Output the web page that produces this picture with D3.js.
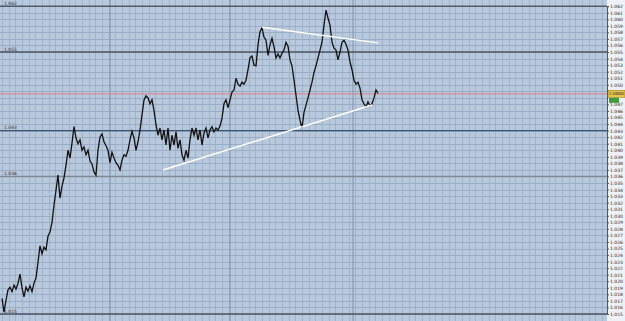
<!DOCTYPE html>
<meta charset="utf-8">
<script src="https://d3js.org/d3.v7.min.js"></script>
<style>
  body { margin: 0; background: #eef1f5; }
  text { font-family: "DejaVu Sans", sans-serif; }
</style>
<body>
<div id="chart"></div>
<script>
// price series, one value per bar
var prices = [
  1.0174,1.0153,1.0171,1.0187,1.0191,1.0184,1.0194,1.0188,1.0197,1.0211,
  1.0190,1.0176,1.0191,1.0185,1.0193,1.0184,1.0197,1.0205,1.0229,1.0254,
  1.0242,1.0252,1.0248,1.0269,1.0275,1.0290,1.0316,1.0339,1.0362,1.0327,
  1.0345,1.0358,1.0377,1.0400,1.0388,1.0411,1.0436,1.0419,1.0410,1.0416,
  1.0400,1.0405,1.0393,1.0400,1.0384,1.0379,1.0367,1.0362,1.0400,1.0420,
  1.0425,1.0413,1.0407,1.0400,1.0381,1.0397,1.0388,1.0381,1.0377,1.0370,
  1.0385,1.0393,1.0391,1.0400,1.0416,1.0429,1.0419,1.0400,1.0413,1.0431,
  1.0454,1.0477,1.0483,1.0480,1.0471,1.0477,1.0461,1.0439,1.0423,1.0434,
  1.0416,1.0431,1.0408,1.0434,1.0400,1.0423,1.0408,1.0428,1.0403,1.0416,
  1.0393,1.0385,1.0400,1.0388,1.0416,1.0434,1.0423,1.0434,1.0416,1.0431,
  1.0408,1.0426,1.0434,1.0419,1.0431,1.0436,1.0428,1.0434,1.0431,1.0437,
  1.0449,1.0471,1.0477,1.0465,1.0477,1.0489,1.0492,1.0510,1.0501,1.0498,
  1.0504,1.0501,1.0507,1.0523,1.0541,1.0544,1.0530,1.0529,1.0561,1.0581,
  1.0587,1.0573,1.0568,1.0545,1.0561,1.0571,1.0558,1.0541,1.0547,1.0541,
  1.0548,1.0553,1.0565,1.0559,1.0538,1.0529,1.0507,1.0484,1.0461,1.0446,
  1.0434,1.0458,1.0469,1.0480,1.0492,1.0504,1.0519,1.0529,1.0541,1.0553,
  1.0565,1.0591,1.0614,1.0602,1.0591,1.0565,1.0556,1.0553,1.0538,1.0550,
  1.0565,1.0568,1.0562,1.0553,1.0535,1.0523,1.0507,1.0501,1.0504,1.0495,
  1.0477,1.0471,1.0466,1.0474,1.0468,1.0471,1.0480,1.0492,1.0487
];

// horizontal levels drawn on the chart
var levels = [1.062, 1.055, 1.043, 1.036, 1.015];
var levelColors = ["#4f5b69", "#4a5563", "#3b5573", "#7d8a98", "#4a5563"];
var bidPrice = 1.04862;

// trend lines: [startBar, startPrice, endBar, endPrice]
var trendLines = [
  [130, 1.0588, 188, 1.0564],
  [80.5, 1.0370, 185, 1.0469]
];

// darker period separators (bar index)
var separators = [54, 114, 175.5];

var W = 625, H = 321, plotRight = 607;

var svg = d3.select("#chart").append("svg")
  .attr("width", W).attr("height", H);

var x = d3.scaleLinear().domain([0, 302.5]).range([2, plotRight]);
var y = d3.scaleLinear().domain([1.015, 1.062]).range([314, 6.2]);

// plot background
svg.append("rect")
  .attr("x", 0).attr("y", 0)
  .attr("width", plotRight).attr("height", H)
  .attr("fill", "#b8c9de");

// vertical grid
svg.append("g").selectAll("line")
  .data(d3.range(0, 303, 10 / 3))
  .enter().append("line")
    .attr("x1", function(d) { return Math.round(x(d)) + 0.5; })
    .attr("x2", function(d) { return Math.round(x(d)) + 0.5; })
    .attr("y1", 0).attr("y2", H)
    .attr("stroke", "#a1b3ca").attr("stroke-width", 1);

// horizontal grid, one per tick
var ticks = d3.range(1015, 1063).map(function(d) { return d / 1000; });
svg.append("g").selectAll("line")
  .data(ticks)
  .enter().append("line")
    .attr("x1", 0).attr("x2", plotRight)
    .attr("y1", function(d) { return Math.round(y(d)) + 0.5; })
    .attr("y2", function(d) { return Math.round(y(d)) + 0.5; })
    .attr("stroke", "#9aadc5").attr("stroke-width", 1);

// separators
svg.append("g").selectAll("line")
  .data(separators)
  .enter().append("line")
    .attr("x1", function(d) { return x(d); })
    .attr("x2", function(d) { return x(d); })
    .attr("y1", 0).attr("y2", H)
    .attr("stroke", "#7f93ac").attr("stroke-width", 1);

// level lines with left labels
var lv = svg.append("g");
levels.forEach(function(v, i) {
  lv.append("line")
    .attr("x1", 0).attr("x2", plotRight)
    .attr("y1", y(v)).attr("y2", y(v))
    .attr("stroke", levelColors[i]).attr("stroke-width", 1.4);
  lv.append("text")
    .attr("x", 4).attr("y", y(v) - 1.5)
    .attr("font-size", 4.5)
    .attr("fill", "#2a2f36")
    .text(d3.format(".3f")(v));
});

// bid line
svg.append("line")
  .attr("x1", 0).attr("x2", plotRight)
  .attr("y1", y(bidPrice)).attr("y2", y(bidPrice))
  .attr("stroke", "#d98c9a").attr("stroke-width", 1.3);

// price line
var line = d3.line()
  .x(function(d, i) { return x(i); })
  .y(function(d) { return y(d); });

svg.append("path")
  .datum(prices)
  .attr("d", line)
  .attr("fill", "none")
  .attr("stroke", "#111")
  .attr("stroke-width", 1.3)
  .attr("stroke-linejoin", "miter");

// trend lines
svg.append("g").selectAll("line")
  .data(trendLines)
  .enter().append("line")
    .attr("x1", function(d) { return x(d[0]); })
    .attr("y1", function(d) { return y(d[1]); })
    .attr("x2", function(d) { return x(d[2]); })
    .attr("y2", function(d) { return y(d[3]); })
    .attr("stroke", "#fff").attr("stroke-width", 1.5);

// right axis (labels next to the bid tag are hidden, as in the terminal)
var axisTicks = ticks.filter(function(d) { return Math.abs(d - bidPrice) > 0.0012; });
var axis = svg.append("g")
  .attr("transform", "translate(" + plotRight + ",0)")
  .call(d3.axisRight(y).tickValues(axisTicks).tickSize(2).tickFormat(d3.format(".3f")));
axis.select(".domain").attr("stroke", "#555");
axis.selectAll(".tick line").attr("stroke", "#555");
axis.selectAll(".tick text")
  .attr("x", 3)
  .attr("font-size", 4.5)
  .attr("font-family", "DejaVu Sans")
  .attr("fill", "#222");

// bid tag
svg.append("rect")
  .attr("x", plotRight + 1).attr("y", y(bidPrice) - 3.5)
  .attr("width", 17).attr("height", 7)
  .attr("fill", "#e9c446").attr("stroke", "#8a6d10").attr("stroke-width", 0.5);
svg.append("text")
  .attr("x", plotRight + 2).attr("y", y(bidPrice) + 1.6)
  .attr("font-size", 4)
  .attr("textLength", 15).attr("lengthAdjust", "spacingAndGlyphs")
  .attr("fill", "#222")
  .text(d3.format(".5f")(bidPrice));
svg.append("rect")
  .attr("x", plotRight + 2).attr("y", y(bidPrice) + 4)
  .attr("width", 10).attr("height", 5)
  .attr("fill", "#3f9a3a");
</script>
</body>
